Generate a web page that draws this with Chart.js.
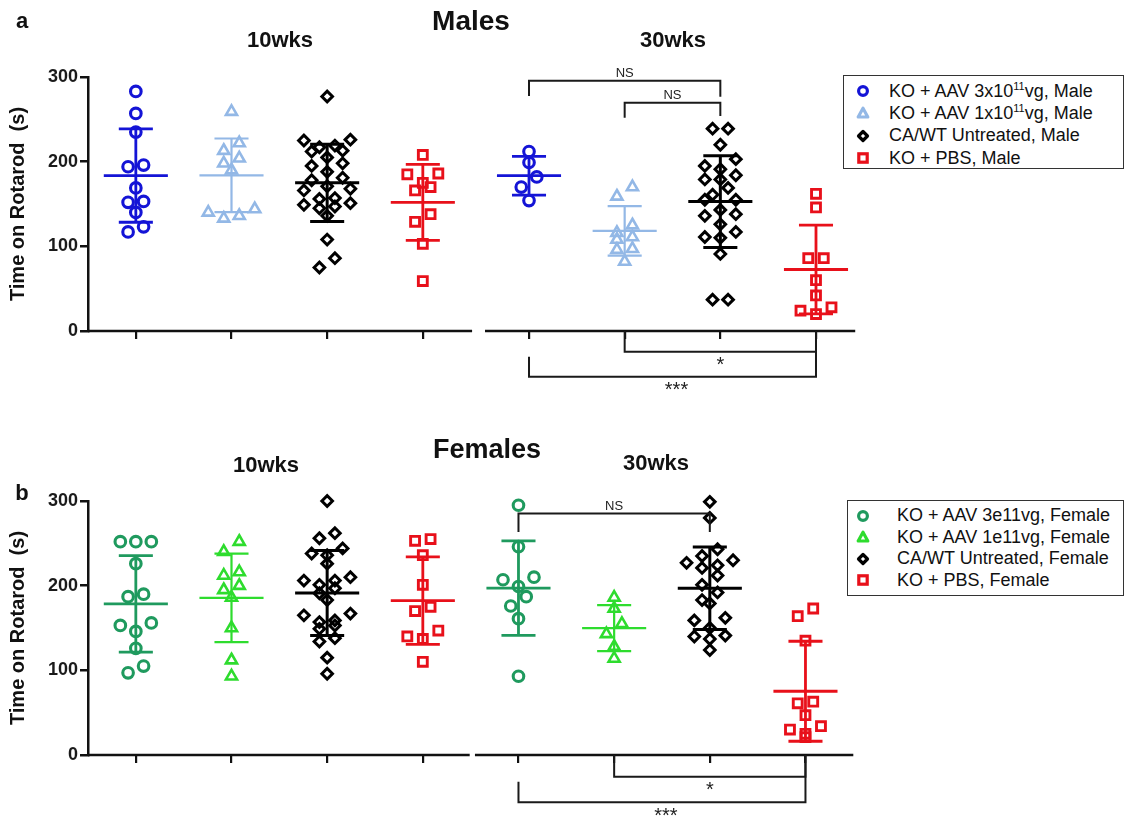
<!DOCTYPE html>
<html>
<head>
<meta charset="utf-8">
<script src="https://cdn.jsdelivr.net/npm/chart.js@4.4.1/dist/chart.umd.min.js"></script>
<style>
  body { margin: 0; background: #fff; font-family: "Liberation Sans", Arial, sans-serif; }
  #wrap { position: relative; width: 1126px; height: 820px; overflow: hidden; }
  .panel { position: absolute; left: 0; width: 1126px; height: 410px; }
  .lbl { position: absolute; font-weight: bold; color: #111; transform: translate(-50%, -50%); white-space: nowrap; }
  .legend { position: absolute; border: 1.5px solid #333; background: #fff; font-size: 18px; color: #111; box-sizing: border-box; }
  .legend .row { display: flex; align-items: center; white-space: nowrap; }
  .legend svg { flex: none; }
  .legend sup { font-size: 11px; vertical-align: 7px; line-height: 0; }
</style>
</head>
<body>
<div id="wrap">
  <div class="panel" style="top:0"><canvas id="chart-males" width="1126" height="410"></canvas></div>
  <div class="panel" style="top:410px"><canvas id="chart-females" width="1126" height="410"></canvas></div>

  <div class="lbl" style="left:22px;top:21px;font-size:22px">a</div>
  <div class="lbl" style="left:471px;top:21px;font-size:28px">Males</div>
  <div class="lbl" style="left:280px;top:40px;font-size:22px">10wks</div>
  <div class="lbl" style="left:673px;top:40px;font-size:22px">30wks</div>

  <div class="lbl" style="left:22px;top:493px;font-size:22px">b</div>
  <div class="lbl" style="left:487px;top:449px;font-size:27px">Females</div>
  <div class="lbl" style="left:266px;top:465px;font-size:22px">10wks</div>
  <div class="lbl" style="left:656px;top:463px;font-size:22px">30wks</div>

  <div id="legend-males" class="legend" style="left:843px;top:75px;width:281px;height:94px;padding-top:4px"></div>
  <div id="legend-females" class="legend" style="left:847px;top:500px;width:277px;height:96px;padding-top:4px"></div>
</div>

<script>
// ── Data, seconds on rotarod ──────────────────────────────────────────────────
// Males
const maleHigh10 = [283, 257, 235, 196, 194, 169, 153, 152, 140, 123, 117];
const maleLow10  = [259, 222, 213, 204, 198, 190, 144, 140, 136, 133];
const maleWT10   = [277, 226, 225, 219, 217, 213, 212, 205, 198, 195, 188, 181, 178,
                    171, 168, 166, 157, 156, 151, 149, 147, 145, 136, 108, 86, 75];
const malePBS10  = [208, 186, 185, 175, 170, 166, 138, 129, 103, 59];
const maleHigh30 = [212, 199, 182, 170, 154];
const maleLow30  = [170, 159, 125, 116, 111, 108, 97, 96, 82];
const maleWT30   = [239, 239, 220, 203, 195, 191, 184, 179, 179, 169, 161, 155, 155,
                    143, 138, 136, 126, 117, 111, 110, 91, 37, 37];
const malePBS30  = [162, 146, 86, 86, 60, 42, 28, 24, 20];

// Females
const femaleHigh10 = [252, 252, 252, 226, 190, 187, 156, 153, 146, 126, 105, 97];
const femaleLow10  = [252, 240, 216, 212, 200, 195, 186, 150, 112, 93];
const femaleWT10   = [300, 262, 256, 244, 238, 236, 226, 210, 206, 206, 201, 197,
                      191, 183, 167, 165, 159, 157, 153, 149, 138, 134, 115, 96];
const femalePBS10  = [255, 253, 236, 201, 175, 170, 147, 140, 137, 110];
const femaleHigh30 = [295, 246, 210, 207, 199, 187, 176, 161, 93];
const femaleLow30  = [186, 173, 155, 143, 128, 114];
const femaleWT30   = [299, 280, 243, 235, 230, 227, 224, 221, 212, 201, 192, 183,
                      179, 162, 159, 150, 141, 140, 137, 124];
const femalePBS30  = [173, 164, 135, 63, 61, 47, 34, 30, 25, 21];

// Category positions on the x axis (10wks: 1-4, 30wks: 5-8)
const maleXPos   = [1, 2, 3, 4, 5.11, 6.11, 7.11, 8.11];
const femaleXPos = [1, 2, 3, 4, 5, 6, 7, 8];

const yTicks = [0, 100, 200, 300];

// Legend labels
const maleLegend = [
  'KO + AAV 3x10<sup>11</sup>vg, Male',
  'KO + AAV 1x10<sup>11</sup>vg, Male',
  'CA/WT Untreated, Male',
  'KO + PBS, Male',
];
const femaleLegend = [
  'KO + AAV 3e11vg, Female',
  'KO + AAV 1e11vg, Female',
  'CA/WT Untreated, Female',
  'KO + PBS, Female',
];

// Significance brackets: [fromGroup, toGroup, barY, leftEndY, rightEndY, label]
const maleBrackets = [
  [4, 6, 295.6, 277.6, 276.7, 'NS'],
  [5, 6, 269.6, 252, 254, 'NS'],
  [5, 7, -24.4, 0, 0, '*'],
  [4, 7, -54, -30.3, 0, '***'],
];
const femaleBrackets = [
  [4, 6, 285.1, 263.4, 263.4, 'NS'],
  [5, 7, -25.6, 0, 0, '*'],
  [4, 7, -55.8, -31.5, 0, '***'],
];

// Broken x-axis line segments (in x-axis units)
const maleAxisSegments   = [[0.5, 4.515], [4.65, 8.52]];
const femaleAxisSegments = [[0.5, 4.49], [4.545, 8.5]];

// ── Styles ────────────────────────────────────────────────────────────────────
const maleColors   = ['#1414d6', '#93b8e6', '#000000', '#e8101a'];
const femaleColors = ['#1f9a5e', '#2edc2e', '#000000', '#e8101a'];
const shapes       = ['circle', 'triangle', 'rectRot', 'rect'];
const shapeRadius  = [5.3, 6.4, 5.3, 6.3];
const shapeBorder  = [3.1, 2.6, 3.0, 2.9];
const barWidth     = [2.8, 2.2, 3.0, 2.8];
const FONT = "'Liberation Sans', Arial, sans-serif";

const X_MIN = 0.5, X_MAX = 8.57;
const PX_X = 95.67;          // px per x unit
const ROW_H = 13;            // seconds: values closer than this share a row
const COL_W = 15.5;          // px between markers in a row
const MEAN_HALF = 0.335;     // half width of the mean line (x units)
const CAP_HALF = 0.178;      // half width of SD caps

// Prism-like scatter: group values into rows, spread each row sideways,
// largest values on the outside
function swarm(values, center) {
  const sorted = values.slice().sort((a, b) => b - a);
  const rows = [];
  sorted.forEach(v => {
    const row = rows[rows.length - 1];
    if (row && row[0] - v < ROW_H) row.push(v); else rows.push([v]);
  });
  const pts = [];
  rows.forEach(row => {
    const n = row.length;
    const offs = row.map((_, i) => (i - (n - 1) / 2) * COL_W)
      .sort((a, b) => Math.abs(b) - Math.abs(a) || b - a);
    row.forEach((v, i) => pts.push({ x: center + offs[i] / PX_X, y: v }));
  });
  return pts;
}

function meanSd(values) {
  const m = values.reduce((a, b) => a + b, 0) / values.length;
  const sd = Math.sqrt(values.reduce((a, b) => a + (b - m) ** 2, 0) / (values.length - 1));
  return { m, sd };
}

function barData(values, xc) {
  const { m, sd } = meanSd(values);
  return [
    { x: xc - MEAN_HALF, y: m }, { x: xc + MEAN_HALF, y: m }, { x: xc, y: null },
    { x: xc - CAP_HALF, y: m + sd }, { x: xc + CAP_HALF, y: m + sd }, { x: xc, y: null },
    { x: xc - CAP_HALF, y: m - sd }, { x: xc + CAP_HALF, y: m - sd }, { x: xc, y: null },
    { x: xc, y: m + sd }, { x: xc, y: m - sd },
  ];
}

// Broken axis line + significance brackets
const decoPlugin = {
  id: 'deco',
  afterDraw(chart, args, opts) {
    const { ctx } = chart;
    const xs = chart.scales.x, ys = chart.scales.y;
    const y0 = ys.getPixelForValue(0);
    ctx.save();
    ctx.strokeStyle = '#111';
    ctx.lineWidth = 2.5;
    opts.segments.forEach(([a, b]) => {
      ctx.beginPath();
      ctx.moveTo(xs.getPixelForValue(a), y0);
      ctx.lineTo(xs.getPixelForValue(b), y0);
      ctx.stroke();
    });
    ctx.lineWidth = 2;
    ctx.strokeStyle = '#1a1a1a';
    ctx.fillStyle = '#222';
    ctx.textAlign = 'center';
    opts.brackets.forEach(([g1, g2, yb, yl, yr, label]) => {
      const x1 = xs.getPixelForValue(opts.xPos[g1]);
      const x2 = xs.getPixelForValue(opts.xPos[g2]);
      const pb = ys.getPixelForValue(yb);
      ctx.beginPath();
      ctx.moveTo(x1, ys.getPixelForValue(yl));
      ctx.lineTo(x1, pb);
      ctx.lineTo(x2, pb);
      ctx.lineTo(x2, ys.getPixelForValue(yr));
      ctx.stroke();
      const xm = (x1 + x2) / 2;
      if (yb > 0) {
        ctx.font = `13px ${FONT}`;
        ctx.textBaseline = 'bottom';
        ctx.fillText(label, xm, pb - 1);
      } else {
        ctx.font = `20px ${FONT}`;
        ctx.textBaseline = 'top';
        ctx.fillText(label, xm + (label.length > 1 ? 4 : 0), pb + 4);
      }
    });
    ctx.restore();
  },
};

function makePanel(id, groups, xPos, colors, brackets, segments, padTop, padBottom) {
  const datasets = [];
  groups.forEach((vals, i) => {
    const k = i % 4;
    datasets.push({
      type: 'scatter',
      data: swarm(vals, xPos[i]),
      pointStyle: shapes[k],
      pointRadius: shapeRadius[k],
      pointBorderWidth: shapeBorder[k],
      borderColor: colors[k],
      backgroundColor: 'rgba(255,255,255,0)',
      clip: false,
      order: 2,
    });
    datasets.push({
      type: 'line',
      data: barData(vals, xPos[i]),
      borderColor: colors[k],
      borderWidth: barWidth[k],
      pointRadius: 0,
      spanGaps: false,
      borderCapStyle: 'butt',
      clip: false,
      order: 1,
    });
  });

  return new Chart(document.getElementById(id), {
    type: 'scatter',
    data: { datasets },
    plugins: [decoPlugin],
    options: {
      responsive: false,
      animation: false,
      events: [],
      layout: { padding: { left: 0, right: 1126 - 860, top: padTop, bottom: padBottom } },
      plugins: {
        legend: { display: false },
        tooltip: { enabled: false },
        deco: { segments, brackets, xPos },
      },
      scales: {
        x: {
          type: 'linear',
          min: X_MIN,
          max: X_MAX,
          afterBuildTicks: s => { s.ticks = xPos.map(v => ({ value: v })); },
          afterFit: s => { s.height = 10; },
          border: { display: false },
          grid: { drawOnChartArea: false, drawTicks: true, tickLength: 8, color: '#111', lineWidth: 2.2 },
          ticks: { display: false },
        },
        y: {
          min: 0,
          max: 300,
          afterBuildTicks: s => { s.ticks = yTicks.map(v => ({ value: v })); },
          afterFit: s => { s.width = 88; },
          border: { display: true, color: '#111', width: 2.5 },
          grid: { drawOnChartArea: false, drawTicks: true, tickLength: 8, color: '#111', lineWidth: 2.5 },
          ticks: { color: '#1a1a1a', padding: 2, font: { family: FONT, size: 18, weight: 'bold' } },
          title: {
            display: true,
            text: 'Time on Rotarod  (s)',
            color: '#111',
            padding: { top: 6, bottom: 0 },
            font: { family: FONT, size: 20, weight: 'bold' },
          },
        },
      },
    },
  });
}

function legendIcon(k, color) {
  const s = 'fill="none" stroke="' + color + '" stroke-width="3.2"';
  const shape = [
    `<circle cx="8" cy="8" r="4.4" ${s}/>`,
    `<polygon points="8,3.2 12.8,12 3.2,12" ${s} stroke-width="2.6" stroke-linejoin="round"/>`,
    `<polygon points="8,3.5 12.5,8 8,12.5 3.5,8" ${s} stroke-linejoin="round"/>`,
    `<rect x="3.8" y="3.8" width="8.4" height="8.4" ${s}/>`,
  ][k];
  return `<svg width="16" height="16" viewBox="0 0 16 16">${shape}</svg>`;
}

function buildLegend(id, labels, colors, iconLeft, textGap, rowH) {
  const el = document.getElementById(id);
  el.innerHTML = labels.map((t, k) =>
    `<div class="row" style="height:${rowH}px"><span style="width:${iconLeft}px"></span>${legendIcon(k, colors[k])}` +
    `<span style="width:${textGap}px"></span><span>${t}</span></div>`).join('');
}

makePanel('chart-males',
  [maleHigh10, maleLow10, maleWT10, malePBS10, maleHigh30, maleLow30, maleWT30, malePBS30],
  maleXPos, maleColors, maleBrackets, maleAxisSegments, 77, 410 - 331 - 10);

makePanel('chart-females',
  [femaleHigh10, femaleLow10, femaleWT10, femalePBS10, femaleHigh30, femaleLow30, femaleWT30, femalePBS30],
  femaleXPos, femaleColors, femaleBrackets, femaleAxisSegments, 91, 410 - 345 - 10);

buildLegend('legend-males', maleLegend, maleColors, 11, 18, 22.3);
buildLegend('legend-females', femaleLegend, femaleColors, 7, 26, 21.5);
</script>
</body>
</html>
